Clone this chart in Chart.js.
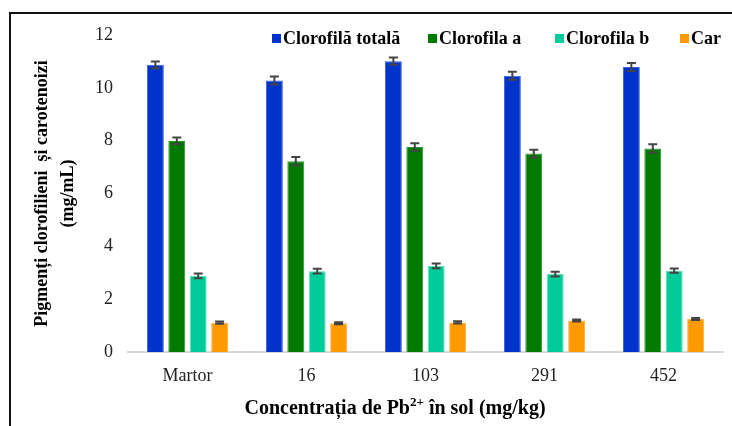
<!DOCTYPE html>
<html>
<head>
<meta charset="utf-8">
<script src="https://cdn.jsdelivr.net/npm/chart.js@4/dist/chart.umd.min.js"></script>
<style>
  html, body { margin: 0; padding: 0; background: #fff; }
  #wrap { position: relative; width: 732px; height: 426px; overflow: hidden; }
  #frame { position: absolute; left: 9px; top: 12px; width: 800px; height: 500px;
           border-left: 2px solid #111; border-top: 2px solid #111; pointer-events: none; }
  canvas { display: block; }
</style>
</head>
<body>
<div id="wrap">
  <canvas id="c" width="732" height="426"></canvas>
  <div id="frame"></div>
</div>
<script>
// ---- data ----
const categories = ['Martor', '16', '103', '291', '452'];
const seriesNames = ['Clorofilă totală', 'Clorofila a', 'Clorofila b', 'Car'];
const clorofilaTotala = [10.87, 10.28, 11.01, 10.46, 10.79];
const clorofilaA      = [7.99, 7.22, 7.76, 7.51, 7.70];
const clorofilaB      = [2.88, 3.06, 3.26, 2.95, 3.08];
const carotenoizi     = [1.11, 1.09, 1.12, 1.19, 1.25];
const errTotala = [0.13, 0.15, 0.14, 0.15, 0.15];
const errA      = [0.13, 0.16, 0.14, 0.15, 0.16];
const errB      = [0.09, 0.09, 0.09, 0.09, 0.08];
const errCar    = [0.04, 0.04, 0.04, 0.04, 0.04];
const yTicks = [0, 2, 4, 6, 8, 10, 12];
const yTitle = ['Pigmenți clorofilieni  și carotenoizi', '(mg/mL)'];
const xTitleParts = ['Concentrația de Pb', '2+', ' în sol (mg/kg)'];

const colors = ['#0033cc', '#007a00', '#00cc99', '#ff9900'];
const borders = ['#3a5fd9', '#2e8f2e', '#5fdcb8', '#ffb347'];
const seriesValues = [clorofilaTotala, clorofilaA, clorofilaB, carotenoizi];
const seriesErrors = [errTotala, errA, errB, errCar];

const SERIF = "'Liberation Serif', 'Times New Roman', serif";

const errorBarPlugin = {
  id: 'errorBars',
  afterDatasetsDraw(chart) {
    const ctx = chart.ctx;
    const yScale = chart.scales.y;
    ctx.save();
    ctx.strokeStyle = '#444';
    ctx.lineWidth = 2;
    chart.data.datasets.forEach((ds, di) => {
      const meta = chart.getDatasetMeta(di);
      meta.data.forEach((bar, i) => {
        const v = ds.data[i], e = ds.errors[i];
        const yTop = yScale.getPixelForValue(v + e);
        const yBot = yScale.getPixelForValue(v - e);
        const x = bar.x, cap = 4.5;
        ctx.beginPath();
        ctx.moveTo(x, yTop); ctx.lineTo(x, yBot);
        ctx.moveTo(x - cap, yTop); ctx.lineTo(x + cap, yTop);
        ctx.moveTo(x - cap, yBot); ctx.lineTo(x + cap, yBot);
        ctx.stroke();
      });
    });
    ctx.restore();
  }
};

const legendPlugin = {
  id: 'customLegend',
  afterDraw(chart, args, opts) {
    const ctx = chart.ctx;
    ctx.save();
    ctx.font = 'bold 18px ' + SERIF;
    ctx.textBaseline = 'middle';
    ctx.textAlign = 'left';
    chart.data.datasets.forEach((ds, i) => {
      const x = opts.starts[i], y = opts.y;
      ctx.fillStyle = ds.backgroundColor;
      ctx.fillRect(x, y - 4, 9, 9);
      ctx.fillStyle = '#000';
      ctx.fillText(ds.label, x + 11, y + 1);
    });
    ctx.restore();
  }
};

const xTitlePlugin = {
  id: 'xTitle',
  afterDraw(chart, args, opts) {
    const ctx = chart.ctx;
    ctx.save();
    const mainFont = 'bold 20px ' + SERIF;
    const supFont = 'bold 13px ' + SERIF;
    ctx.textBaseline = 'alphabetic';
    ctx.textAlign = 'left';
    ctx.font = mainFont; const w0 = ctx.measureText(xTitleParts[0]).width;
    const w2 = ctx.measureText(xTitleParts[2]).width;
    ctx.font = supFont; const w1 = ctx.measureText(xTitleParts[1]).width;
    let x = opts.cx - (w0 + w1 + w2) / 2;
    const base = opts.baseline;
    ctx.fillStyle = '#000';
    ctx.font = mainFont; ctx.fillText(xTitleParts[0], x, base); x += w0;
    ctx.font = supFont; ctx.fillText(xTitleParts[1], x, base - 8); x += w1;
    ctx.font = mainFont; ctx.fillText(xTitleParts[2], x, base);
    ctx.restore();
  }
};

new Chart(document.getElementById('c'), {
  type: 'bar',
  data: {
    labels: categories,
    datasets: seriesNames.map((name, i) => ({
      label: name,
      data: seriesValues[i],
      errors: seriesErrors[i],
      backgroundColor: colors[i],
      borderColor: borders[i],
      borderWidth: 1,
      barPercentage: 0.79,
      categoryPercentage: 0.72
    }))
  },
  options: {
    responsive: false,
    animation: false,
    layout: { padding: { top: 35, right: 9, left: 0, bottom: 0 } },
    plugins: {
      legend: { display: false },
      tooltip: { enabled: false },
      customLegend: { starts: [272, 428, 555, 680], y: 38 },
      xTitle: { cx: 395, baseline: 414 }
    },
    scales: {
      x: {
        grid: { display: true, drawOnChartArea: false, drawTicks: false },
        border: { display: true, color: '#d9d9d9', width: 2 },
        ticks: { font: { family: SERIF, size: 18 }, color: '#222', padding: 13 },
        afterFit(scale) { scale.height = 74; }
      },
      y: {
        min: 0, max: 12,
        afterBuildTicks(scale) { scale.ticks = yTicks.map(v => ({ value: v })); },
        grid: { display: false, drawTicks: false },
        border: { display: false },
        ticks: { font: { family: SERIF, size: 18 }, color: '#222', padding: 15 },
        title: {
          display: true, text: yTitle,
          font: { family: SERIF, size: 18, weight: 'bold', lineHeight: 1.45 },
          color: '#000',
          padding: { top: 29, bottom: 0 }
        },
        afterFit(scale) { scale.width = 128; }
      }
    }
  },
  plugins: [errorBarPlugin, legendPlugin, xTitlePlugin]
});
</script>
</body>
</html>
